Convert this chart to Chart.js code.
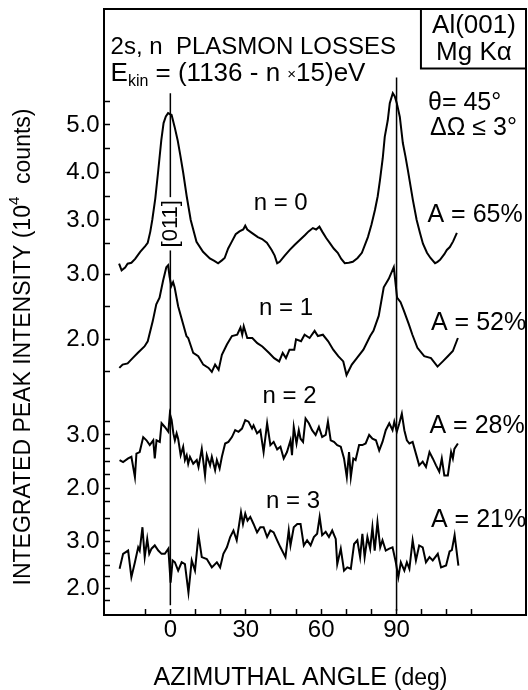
<!DOCTYPE html>
<html>
<head>
<meta charset="utf-8">
<title>Al(001) 2s plasmon losses</title>
<script src="https://cdn.jsdelivr.net/npm/chart.js@4.4.1/dist/chart.umd.min.js"></script>
<style>
  html, body { margin: 0; padding: 0; background: #fff; }
  #plot { display: block; }
</style>
</head>
<body>
<canvas id="plot" width="528" height="690"></canvas>
<script>
// Azimuthal scans: angle (deg) and intensity (10^4 counts)

// n = 0
const n0Angles = [-20.4, -19.4, -18.0, -17.0, -15.5, -14.0, -12.0, -10.0, -9.0, -8.0,
  -7.2, -6.0, -4.9, -3.6, -2.7, -1.8, -0.9, 0.5, 1.7, 2.9,
  4.0, 5.1, 6.5, 8.1, 10.4, 13.0, 15.7, 17.5, 19.0, 20.5,
  21.6, 23.0, 24.4, 26.0, 27.5, 29.0, 29.8, 30.6, 32.4, 34.8,
  36.5, 38.4, 40.3, 41.5, 42.5, 43.5, 45.5, 47.5, 49.5, 51.5,
  53.5, 55.0, 56.7, 58.0, 59.3, 60.5, 62.0, 63.4, 65.0, 66.6,
  68.0, 69.4, 71.0, 72.6, 74.5, 76.2, 78.6, 80.0, 81.4, 82.5,
  83.4, 84.5, 85.3, 86.5, 87.3, 88.5, 89.3, 90.1, 91.3, 92.5,
  93.5, 94.5, 96.5, 98.0, 99.3, 100.5, 102.1, 103.5, 105.3, 106.3,
  107.3, 109.0, 110.0, 111.2, 112.5, 114.0];
const n0Values = [2.08, 1.94, 2.00, 2.08, 2.10, 2.18, 2.33, 2.45, 2.52, 2.75,
  3.00, 3.45, 4.00, 4.68, 5.04, 5.18, 5.25, 5.21, 4.96, 4.68,
  4.35, 4.00, 3.50, 3.00, 2.54, 2.33, 2.19, 2.14, 2.09, 2.15,
  2.20, 2.40, 2.54, 2.70, 2.76, 2.80, 2.88, 2.80, 2.73, 2.64,
  2.60, 2.52, 2.37, 2.25, 2.09, 2.12, 2.25, 2.37, 2.48, 2.58,
  2.68, 2.76, 2.83, 2.80, 2.86, 2.75, 2.62, 2.52, 2.40, 2.31,
  2.18, 2.09, 2.10, 2.12, 2.20, 2.31, 2.64, 2.90, 3.21, 3.50,
  3.84, 4.30, 4.75, 5.10, 5.46, 5.67, 5.60, 5.46, 5.17, 4.62,
  4.35, 4.05, 3.42, 3.00, 2.73, 2.50, 2.31, 2.20, 2.09, 2.12,
  2.16, 2.28, 2.37, 2.43, 2.55, 2.73];

// n = 1
const n1Angles = [-20.3, -19.0, -17.0, -15.0, -13.0, -10.3, -9.0, -7.0, -5.6, -4.3,
  -2.9, -1.6, -0.9, -0.3, 0.4, 1.1, 1.7, 3.1, 5.1, 6.4,
  7.1, 9.1, 11.1, 13.1, 15.2, 16.5, 17.8, 19.2, 20.5, 22.5,
  24.5, 26.6, 27.9, 28.6, 29.2, 30.6, 32.6, 34.6, 36.6, 39.3,
  41.3, 43.3, 44.7, 46.0, 47.4, 49.3, 50.0, 52.0, 53.4, 55.4,
  57.4, 58.7, 60.7, 62.8, 64.8, 66.8, 68.8, 70.1, 72.2, 74.2,
  76.8, 79.5, 80.8, 82.9, 84.9, 86.9, 88.9, 90.2, 91.6, 92.9,
  94.9, 96.3, 98.3, 101.0, 103.7, 106.3, 108.4, 110.4, 112.4, 114.4];
const n1Values = [1.56, 1.61, 1.63, 1.71, 1.79, 1.89, 1.97, 2.28, 2.54, 2.64,
  2.90, 3.11, 3.14, 2.96, 2.82, 2.88, 2.80, 2.51, 2.23, 2.05,
  2.02, 1.79, 1.74, 1.61, 1.56, 1.50, 1.61, 1.53, 1.76, 1.92,
  2.05, 2.07, 2.18, 2.07, 2.20, 2.02, 2.02, 1.94, 1.89, 1.79,
  1.71, 1.66, 1.79, 1.71, 1.84, 1.84, 2.00, 1.97, 2.07, 2.02,
  2.13, 2.05, 2.07, 1.97, 1.84, 1.74, 1.66, 1.45, 1.61, 1.71,
  1.84, 2.05, 2.13, 2.36, 2.80, 2.93, 3.11, 2.64, 2.57, 2.44,
  2.23, 2.07, 1.87, 1.74, 1.71, 1.58, 1.66, 1.74, 1.82, 2.02];

// n = 2
const n2Angles = [-20.2, -18.8, -16.8, -15.5, -14.1, -13.5, -12.2, -10.8, -9.5, -8.2,
  -6.8, -6.2, -5.5, -4.2, -3.5, -2.2, -0.8, -0.2, 0.5, 1.2,
  1.8, 2.5, 3.1, 4.1, 5.1, 5.8, 6.5, 7.1, 7.8, 9.1,
  10.5, 11.2, 12.5, 13.8, 14.5, 15.8, 16.5, 17.8, 18.5, 19.6,
  20.5, 21.8, 23.1, 24.5, 25.8, 27.1, 28.5, 29.8, 31.1, 32.5,
  33.1, 34.5, 35.8, 37.1, 38.5, 39.8, 41.1, 42.5, 43.8, 45.1,
  46.4, 47.8, 48.4, 49.1, 50.2, 51.1, 51.8, 52.8, 53.8, 55.1,
  56.4, 57.8, 59.1, 60.4, 61.8, 62.7, 63.8, 65.1, 66.4, 67.8,
  69.1, 70.2, 71.1, 71.8, 72.8, 73.7, 75.1, 76.4, 77.7, 79.1,
  80.4, 81.8, 83.1, 84.4, 85.7, 87.1, 88.4, 89.1, 90.1, 91.1,
  92.1, 93.1, 94.1, 95.1, 96.4, 97.7, 99.0, 100.4, 101.7, 103.1,
  104.4, 105.7, 107.0, 108.0, 109.0, 110.4, 111.7, 112.4, 113.0, 114.4];
const n2Values = [2.53, 2.49, 2.56, 2.59, 2.21, 2.65, 2.68, 2.96, 2.90, 2.81,
  2.90, 2.56, 2.90, 2.87, 3.22, 3.15, 3.06, 3.40, 3.28, 3.03,
  2.90, 3.03, 2.93, 2.62, 2.78, 2.53, 2.62, 2.46, 2.59, 2.46,
  2.53, 2.40, 2.74, 2.24, 2.62, 2.43, 2.59, 2.34, 2.53, 2.37,
  2.59, 2.84, 2.87, 2.96, 3.09, 3.06, 3.12, 3.28, 3.25, 3.12,
  3.18, 3.03, 3.09, 2.68, 3.22, 2.81, 2.87, 2.73, 2.78, 2.56,
  2.68, 2.90, 2.62, 3.15, 2.84, 3.09, 2.93, 2.87, 3.31, 3.22,
  3.09, 3.00, 3.15, 2.96, 3.00, 3.25, 2.90, 2.87, 2.81, 2.78,
  2.56, 2.21, 2.68, 2.21, 2.56, 2.53, 2.81, 2.81, 2.84, 3.00,
  2.93, 2.90, 2.71, 2.87, 3.09, 3.22, 3.09, 3.25, 3.06, 3.22,
  3.40, 3.09, 2.90, 2.84, 2.87, 2.65, 2.43, 2.50, 2.40, 2.68,
  2.56, 2.43, 2.31, 2.56, 2.24, 2.24, 2.68, 2.56, 2.74, 2.84];

// n = 3
const n3Angles = [-20.2, -18.8, -16.8, -15.5, -14.1, -12.8, -12.2, -11.1, -10.2, -9.2,
  -8.4, -7.5, -6.2, -4.8, -3.5, -2.2, -0.8, 0.1, 0.9, 1.8,
  3.1, 4.5, 5.8, 7.2, 8.5, 9.8, 11.2, 12.5, 14.5, 16.5,
  18.5, 19.8, 21.1, 22.5, 23.8, 25.1, 26.4, 28.1, 28.9, 29.8,
  30.7, 31.8, 33.1, 34.5, 35.8, 37.1, 38.5, 39.8, 41.1, 42.5,
  43.8, 45.8, 47.1, 47.8, 49.1, 50.5, 51.8, 53.1, 54.4, 55.8,
  57.1, 58.4, 59.4, 60.4, 61.8, 63.1, 64.4, 65.8, 66.4, 67.8,
  69.1, 70.4, 71.8, 73.1, 74.4, 75.5, 76.4, 77.3, 78.4, 79.5,
  80.4, 81.3, 82.4, 83.5, 84.4, 85.7, 87.1, 88.4, 89.7, 90.7,
  91.7, 93.1, 94.1, 95.1, 96.4, 97.7, 99.0, 100.4, 101.7, 103.1,
  104.4, 106.4, 107.7, 109.7, 111.1, 112.0, 113.1, 114.6];
const n3Values = [2.42, 2.74, 2.81, 2.24, 2.56, 2.88, 2.81, 3.31, 2.67, 3.06,
  2.74, 2.85, 2.92, 2.81, 2.74, 2.74, 2.85, 2.12, 2.60, 2.56,
  2.38, 2.56, 2.52, 1.91, 2.60, 2.38, 3.14, 2.67, 2.63, 2.45,
  2.56, 2.45, 2.74, 2.88, 3.10, 3.24, 3.03, 3.63, 3.38, 3.60,
  3.45, 3.53, 3.38, 3.20, 3.31, 3.31, 3.10, 3.24, 3.20, 3.03,
  2.88, 2.67, 3.24, 2.92, 3.31, 3.38, 3.38, 2.92, 3.03, 2.92,
  3.10, 3.17, 3.53, 3.14, 3.21, 3.10, 3.24, 3.06, 2.52, 2.85,
  2.38, 2.45, 2.42, 2.95, 3.03, 2.67, 3.17, 2.67, 3.10, 2.85,
  3.31, 2.81, 3.42, 2.88, 3.03, 2.81, 2.85, 2.88, 2.56, 2.24,
  2.56, 2.38, 2.56, 2.42, 3.03, 2.60, 2.92, 2.88, 2.56, 2.67,
  2.60, 2.74, 2.45, 2.49, 2.79, 2.82, 3.14, 2.49];

// axes
const xTicks = [-10, 0, 10, 20, 30, 40, 50, 60, 70, 80, 90, 100, 110, 120];
const xLabels = [0, 30, 60, 90];
const yTicks0 = [2.5, 3, 3.5, 4, 4.5, 5, 5.5];
const yTicks1 = [1.5, 2, 2.5, 3];
const yTicks2 = [1.75, 2, 2.25, 2.5, 2.75, 3, 3.25];
const yTicks3 = [1.75, 2, 2.25, 2.5, 2.75, 3, 3.25, 3.5];

// labels per scan
const lossLabels = ['n = 0', 'n = 1', 'n = 2', 'n = 3'];
const anisotropy = ['A = 65%', 'A = 52%', 'A = 28%', 'A = 21%'];

// [011] and [010] azimuth markers
const guideAngles = [0, 90];
const guideTop = [5.67, 6.0];     // on the n = 0 scale
const guideBottom = [1.64, 1.52]; // on the n = 3 scale

const FONT = '"Liberation Sans", Arial, Helvetica, sans-serif';
const INK = '#000';


function trace(angles, values, axisId) {
  return {
    data: angles.map((a, i) => ({ x: a, y: values[i] })),
    yAxisID: axisId,
    borderColor: INK,
    borderWidth: 2,
    pointRadius: 0,
    tension: 0,
    fill: false,
    clip: false,   // scans run across the neighbouring bands
  };
}

// no label overhang reserved: the frame sits at the layout padding
function noOverhang(ax) {
  ax.paddingTop = 0;
  ax.paddingBottom = 0;
  ax.paddingLeft = 0;
  ax.paddingRight = 0;
}

// one stacked band per scan, ticks point inward
function band(tickValues, min, max, order, share) {
  return {
    type: 'linear',
    position: 'left',
    stack: 'scans',
    stackWeight: share,
    weight: order,
    min, max,
    afterBuildTicks: ax => { ax.ticks = tickValues.map(v => ({ value: v })); },
    afterFit: ax => { ax.width = 104; noOverhang(ax); },
    border: { color: INK, width: 2 },
    grid: { drawOnChartArea: false, tickLength: -6, tickWidth: 1.5, tickColor: INK },
    ticks: {
      autoSkip: false,
      padding: 10.5,
      color: INK,
      font: { family: FONT, size: 24 },
      callback: v => Number.isInteger(v) ? v.toFixed(1) : '',
    },
  };
}


// ── text helpers ──────────────────────────────
function rich(ctx, parts, x, y, align) {
  let total = 0;
  parts.forEach(p => {
    ctx.font = `${p.size}px ${FONT}`;
    p.w = ctx.measureText(p.t).width;
    total += p.w;
  });
  let cx = align === 'center' ? x - total / 2 : x;
  ctx.textAlign = 'left';
  parts.forEach(p => {
    ctx.font = `${p.size}px ${FONT}`;
    ctx.fillText(p.t, cx, y + (p.dy || 0));
    cx += p.w;
  });
}

const notes = [
  { parts: [{ t: '2s, n  PLASMON LOSSES', size: 24 }], x: -23.8, axis: 'y0', y: 6.50 },
  { parts: [{ t: 'E', size: 26 }, { t: 'kin', size: 16, dy: 5 }, { t: ' = (1136 - n ', size: 26 },
            { t: '×', size: 15, dy: -2 }, { t: '15)eV', size: 26 }], x: -23.8, axis: 'y0', y: 5.93 },
  { parts: [{ t: 'Al(001)', size: 26 }], x: 120.8, axis: 'y0', y: 6.94, align: 'center' },
  { parts: [{ t: 'Mg Kα', size: 26 }], x: 120.8, axis: 'y0', y: 6.37, align: 'center' },
  { parts: [{ t: 'θ= 45°', size: 25 }], x: 102.5, axis: 'y0', y: 5.32 },
  { parts: [{ t: 'ΔΩ ≤ 3°', size: 25 }], x: 103.3, axis: 'y0', y: 4.79 },
  { parts: [{ t: lossLabels[0], size: 24 }], x: 43.9, axis: 'y0', y: 3.21, align: 'center' },
  { parts: [{ t: anisotropy[0], size: 25 }], x: 102.3, axis: 'y0', y: 2.96 },
  { parts: [{ t: lossLabels[1], size: 24 }], x: 46.0, axis: 'y1', y: 2.37, align: 'center' },
  { parts: [{ t: anisotropy[1], size: 25 }], x: 103.7, axis: 'y1', y: 2.14 },
  { parts: [{ t: lossLabels[2], size: 24 }], x: 47.4, axis: 'y2', y: 3.60, align: 'center' },
  { parts: [{ t: anisotropy[2], size: 25 }], x: 103.1, axis: 'y2', y: 3.03 },
  { parts: [{ t: lossLabels[3], size: 24 }], x: 48.8, axis: 'y3', y: 3.72, align: 'center' },
  { parts: [{ t: anisotropy[3], size: 25 }], x: 103.7, axis: 'y3', y: 3.32 },
];

const figureArt = {
  id: 'figureArt',
  beforeDatasetsDraw(chart) {
    const { ctx, chartArea: a, scales } = chart;
    ctx.save();
    ctx.strokeStyle = INK;
    ctx.lineWidth = 2;
    // closed frame: top and right edges
    ctx.beginPath();
    ctx.moveTo(a.left, a.top);
    ctx.lineTo(a.right, a.top);
    ctx.lineTo(a.right, a.bottom);
    ctx.stroke();
    // sample / source box in the corner
    const bx = scales.x.getPixelForValue(99.7);
    const by = scales.y0.getPixelForValue(6.19);
    ctx.beginPath();
    ctx.moveTo(bx, a.top);
    ctx.lineTo(bx, by);
    ctx.lineTo(a.right, by);
    ctx.stroke();
    // azimuth markers
    ctx.lineWidth = 1.5;
    guideAngles.forEach((ang, i) => {
      const px = scales.x.getPixelForValue(ang);
      ctx.beginPath();
      ctx.moveTo(px, scales.y0.getPixelForValue(guideTop[i]));
      ctx.lineTo(px, scales.y3.getPixelForValue(guideBottom[i]));
      ctx.stroke();
    });
    ctx.restore();
  },
  afterDatasetsDraw(chart) {
    const { ctx, scales } = chart;
    ctx.save();
    ctx.fillStyle = INK;
    ctx.textBaseline = 'alphabetic';
    notes.forEach(n => {
      rich(ctx, n.parts, scales.x.getPixelForValue(n.x), scales[n.axis].getPixelForValue(n.y), n.align);
    });

    // [011] on the 0 deg marker
    const mx = scales.x.getPixelForValue(guideAngles[0]);
    const my = scales.y0.getPixelForValue(2.92);
    ctx.save();
    ctx.translate(mx, my);
    ctx.rotate(-Math.PI / 2);
    ctx.font = `22px ${FONT}`;
    const w = ctx.measureText('[011]').width;
    ctx.fillStyle = '#fff';
    ctx.fillRect(-w / 2 - 3, -11, w + 6, 22);
    ctx.fillStyle = INK;
    ctx.textAlign = 'center';
    ctx.textBaseline = 'middle';
    ctx.fillText('[011]', 0, 1);
    ctx.restore();

    // axis titles
    ctx.save();
    ctx.translate(24, 347);
    ctx.rotate(-Math.PI / 2);
    ctx.textBaseline = 'middle';
    rich(ctx, [{ t: 'INTEGRATED PEAK INTENSITY (10', size: 23 }, { t: '4', size: 15, dy: -9 },
               { t: '  counts)', size: 23 }], 0, 0, 'center');
    ctx.restore();

    ctx.textBaseline = 'alphabetic';
    rich(ctx, [{ t: 'AZIMUTHAL ANGLE ', size: 25 }, { t: '(deg)', size: 23 }], 300.5, 685, 'center');
    ctx.restore();
  },
};


new Chart(document.getElementById('plot'), {
  type: 'line',
  data: {
    datasets: [
      trace(n0Angles, n0Values, 'y0'),
      trace(n1Angles, n1Values, 'y1'),
      trace(n2Angles, n2Values, 'y2'),
      trace(n3Angles, n3Values, 'y3'),
    ],
  },
  options: {
    responsive: false,
    animation: false,
    events: [],
    layout: { autoPadding: false, padding: { top: 9, right: 2, bottom: 0, left: 0 } },
    plugins: { legend: { display: false }, tooltip: { enabled: false } },
    scales: {
      x: {
        type: 'linear',
        position: 'bottom',
        min: -26.4,
        max: 141.5,
        afterBuildTicks: ax => { ax.ticks = xTicks.map(v => ({ value: v })); },
        afterFit: ax => { ax.height = 75; noOverhang(ax); },
        border: { color: INK, width: 2 },
        grid: { drawOnChartArea: false, tickLength: -6, tickWidth: 1.5, tickColor: INK },
        ticks: {
          autoSkip: false,
          maxRotation: 0,
          padding: 7,
          color: INK,
          font: { family: FONT, size: 24 },
          callback: v => xLabels.includes(v) ? String(v) : '',
        },
      },
      y0: band(yTicks0, 2.2, 7.442, 4, 249),
      y1: band(yTicks1, 1.143, 3.251, 3, 137),
      y2: band(yTicks2, 1.555, 3.75, 2, 117),
      y3: band(yTicks3, 1.43, 3.636, 1, 103),
    },
  },
  plugins: [figureArt],
});
</script>
</body>
</html>
